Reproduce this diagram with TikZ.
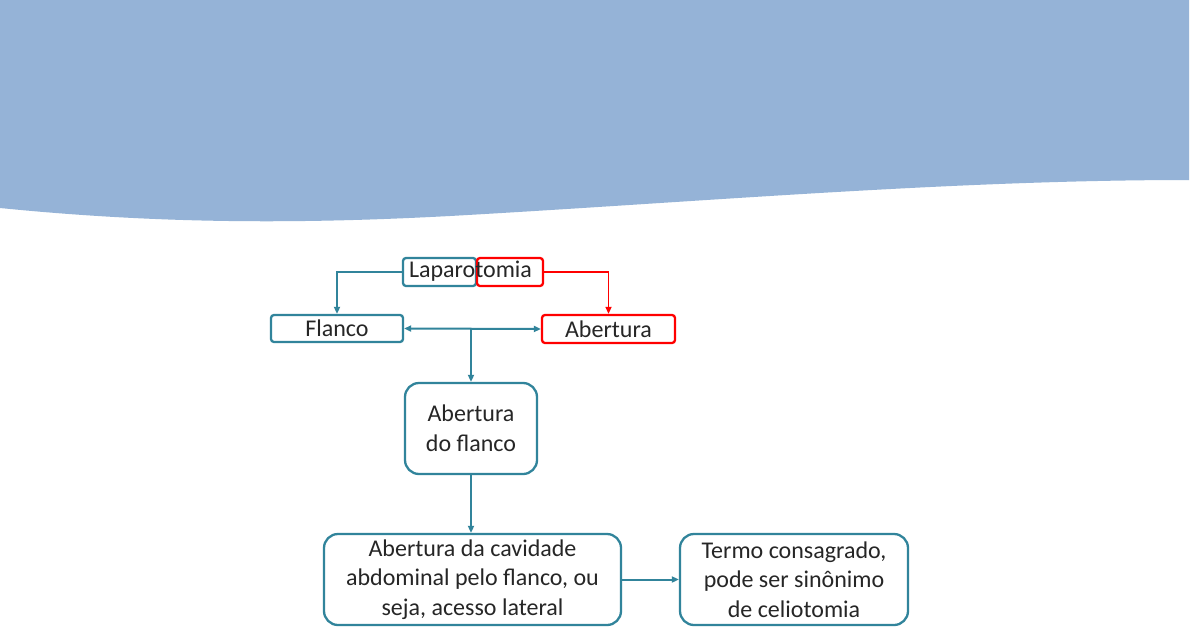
\documentclass[tikz,border=0pt]{standalone}
\usepackage{fontspec}
\setmainfont{Carlito}
\usetikzlibrary{arrows.meta}
\definecolor{wave}{HTML}{95B3D7}
\definecolor{tealc}{HTML}{31849B}
\definecolor{redc}{HTML}{FF0000}
\definecolor{txtc}{HTML}{262626}
\begin{document}
\begin{tikzpicture}[x=1pt,y=-1pt,
  txt/.style={font=\fontsize{24}{29.5}\selectfont, text=txtc, align=center},
  tbox/.style={draw=tealc, line width=2.3pt, rounded corners=3pt, inner sep=0pt, fill=white},
  rbox/.style={draw=redc, line width=2.3pt, rounded corners=3pt, inner sep=0pt, fill=white},
  bigbox/.style={draw=tealc, line width=2.3pt, rounded corners=14pt, inner sep=0pt, fill=white},
  conn/.style={draw=tealc, line width=2pt, -{Triangle[length=7pt,width=6pt]}},
  connred/.style={draw=redc, line width=1.6pt, -{Triangle[length=7pt,width=6pt]}}
]
\useasboundingbox (0,0) rectangle (1191,637);
\fill[white] (0,0) rectangle (1191,637);
\fill[wave] (0,0) -- (1189,0) -- (1189,180)
  .. controls (950,180) and (700,202) .. (450,216)
  .. controls (300,224) and (160,224) .. (0,208) -- cycle;

% top boxes
\node[tbox, minimum width=73pt, minimum height=28pt] (lap) at (439.5,272) {};
\node[rbox, minimum width=66pt, minimum height=28pt] (tom) at (510,272) {};
\node[txt] (laptext) at (470.5,271) {Laparotomia};

\node[tbox, txt, minimum width=132pt, minimum height=27pt] (flanco) at (337,328.5) {Flanco};
\node[rbox, txt, minimum width=133pt, minimum height=28pt] (abert) at (608.5,329) {Abertura};

\node[bigbox, txt, minimum width=132pt, minimum height=91pt] (af) at (471,428.5) {Abertura\\do flanco};
\node[bigbox, txt, minimum width=297pt, minimum height=91pt] (big) at (472.5,579.5) {Abertura da cavidade\\abdominal pelo flanco, ou\\seja, acesso lateral};
\node[bigbox, txt, minimum width=228pt, minimum height=91pt] (termo) at (794,579.5) {Termo consagrado,\\pode ser sinônimo\\de celiotomia};

% connectors
\draw[conn] (lap.west) -| (flanco.north);
\draw[connred] (tom.east) -| (abert.north);
\draw[conn, {Triangle[length=7pt,width=6pt]}-{Triangle[length=7pt,width=6pt]}] (flanco.east) -- (abert.west);
\coordinate (j) at (471,329);
\draw[conn] (j) -- (af.north);
\draw[conn] (af.south) -- (af.south |- big.north);
\draw[conn] (big.east) -- (big.east -| termo.west);
\end{tikzpicture}
\end{document}
